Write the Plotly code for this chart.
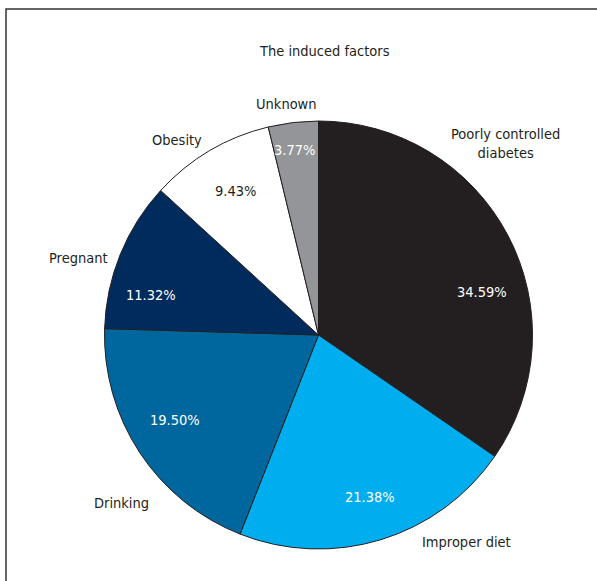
import plotly.graph_objects as go

W, H = 597, 581

categories = ["Poorly controlled diabetes", "Improper diet", "Drinking", "Pregnant", "Obesity", "Unknown"]
outer_labels = ["Poorly controlled<br>diabetes", "Improper diet", "Drinking", "Pregnant", "Obesity", "Unknown"]
values = [34.59, 21.38, 19.50, 11.32, 9.43, 3.77]
colors = ["#231f20", "#00aeef", "#00679e", "#002b5c", "#ffffff", "#939598"]
pct_colors = ["#ffffff", "#ffffff", "#ffffff", "#ffffff", "#231f20", "#ffffff"]
title_text = "The induced factors"

# label positions in pixels (layout only)
pct_pos = [(482, 292), (370, 497), (175, 420), (150.5, 295), (235, 191), (294, 150)]
lab_pos = [(505, 143), (466, 542), (121, 503), (78, 258), (177, 140), (286.5, 104)]

FONT = "DejaVu Sans Condensed, DejaVu Sans, sans-serif"
FS = 14.5

cx, cy, r = 318.5, 335, 214

fig = go.Figure(go.Pie(
    labels=categories,
    values=values,
    sort=False,
    direction="clockwise",
    rotation=0,
    marker=dict(colors=colors, line=dict(color="#231f20", width=1)),
    textinfo="none",
    hoverinfo="label+percent",
    showlegend=False,
    domain=dict(x=[(cx - r) / W, (cx + r) / W], y=[1 - (cy + r) / H, 1 - (cy - r) / H]),
))

ann = []
for v, (x, y), c in zip(values, pct_pos, pct_colors):
    ann.append(dict(x=x / W, y=1 - y / H, xref="paper", yref="paper", text=f"{v:.2f}%",
                    xanchor="center", yanchor="middle",
                    showarrow=False, font=dict(family=FONT, size=FS, color=c)))
for t, (x, y) in zip(outer_labels, lab_pos):
    ann.append(dict(x=x / W, y=1 - y / H, xref="paper", yref="paper", text=t,
                    xanchor="center", yanchor="middle",
                    showarrow=False, font=dict(family=FONT, size=FS, color="#231f20")))
ann.append(dict(x=324 / W, y=1 - 51 / H, xref="paper", yref="paper", text=title_text,
                xanchor="center", yanchor="middle",
                showarrow=False, font=dict(family=FONT, size=FS, color="#231f20")))

fig.update_layout(
    width=W, height=H,
    margin=dict(l=0, r=0, t=0, b=0),
    paper_bgcolor="#ffffff",
    plot_bgcolor="#ffffff",
    annotations=ann,
    shapes=[dict(type="rect", xref="paper", yref="paper",
                 x0=6 / W, x1=1.02, y0=-0.02, y1=1 - 9 / H,
                 line=dict(color="#333333", width=1.5))],
)

fig.write_html("out.html")
